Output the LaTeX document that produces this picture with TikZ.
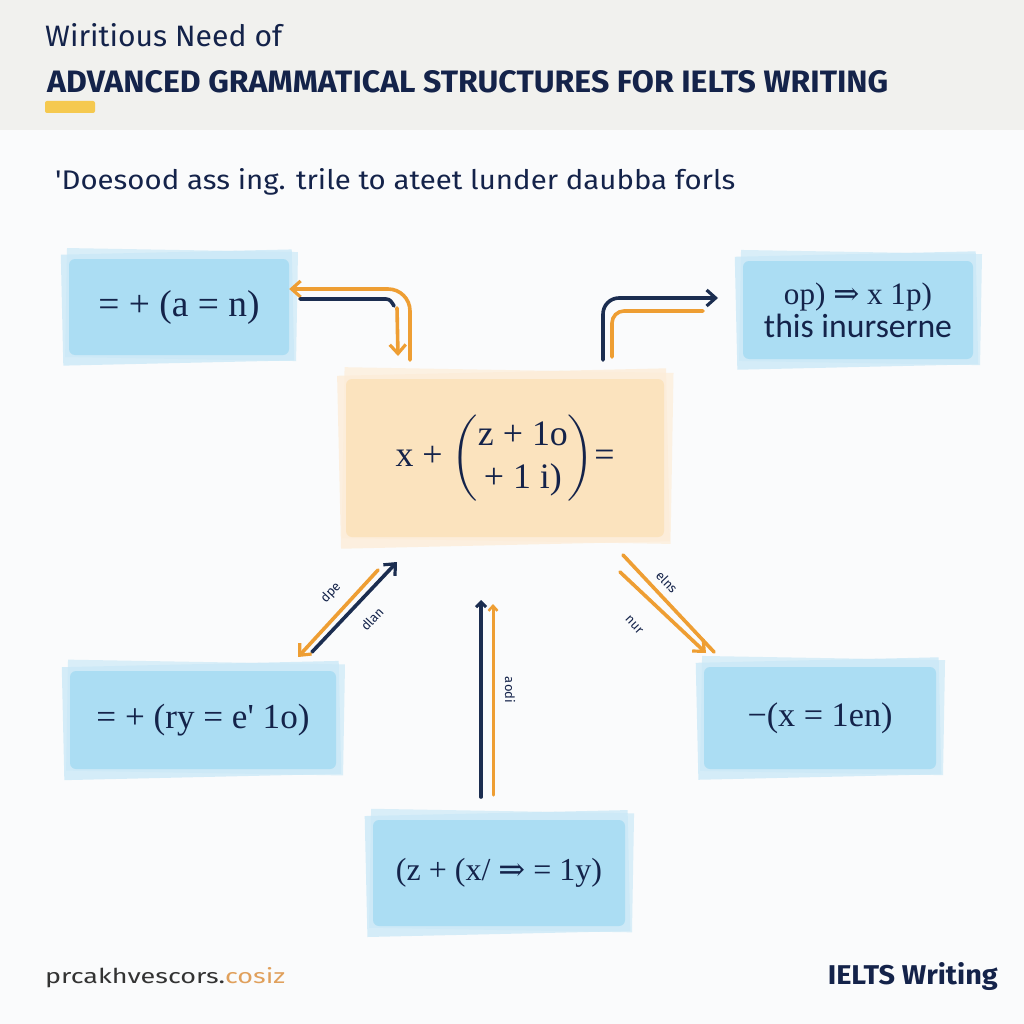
\documentclass[tikz,border=0pt]{standalone}
\usepackage{amsmath}
\usepackage{fontspec}
\usetikzlibrary{arrows.meta}
\newfontfamily\fira{Fira Sans}
\newfontfamily\carl{Carlito}
\newfontfamily\bxf{Liberation Serif}
\newfontfamily\djv{DejaVu Serif}
\definecolor{navy}{HTML}{14234A}
\definecolor{navyA}{HTML}{1B2D50}
\definecolor{orng}{HTML}{EE9E33}
\definecolor{headbg}{HTML}{F1F1EE}
\definecolor{pagebg}{HTML}{FAFBFC}
\definecolor{bluebox}{HTML}{ABDDF3}
\definecolor{blueshd}{HTML}{CBE9F7}
\definecolor{peach}{HTML}{FBE3BE}
\definecolor{peachshd}{HTML}{FDEDD8}
\definecolor{yelbar}{HTML}{F5C94F}
\definecolor{urlgray}{HTML}{333333}
\definecolor{urlorg}{HTML}{E0A05C}
\tikzset{
  boxst/.style={rounded corners=6pt, inner sep=0pt, text=navy, align=center},
  navyarrow/.style={draw=navyA, line width=3.6pt, line cap=round},
  orgarrow/.style={draw=orng, line width=3.6pt, line cap=round},
  tipb/.style={-{Straight Barb[length=9pt,width=16pt,line width=3.2pt]}},
  lbl/.style={font=\fira\fontsize{13}{14}\selectfont, text=navy, inner sep=0pt},
}
\newcommand\skbox[8]{%
  \fill[#7,opacity=.8,rotate around={1.3:(#2,#3)}] ({#2-#4/2-7},{#3-#5/2-7}) rectangle ({#2+#4/2+4},{#3+#5/2+8});
  \fill[#7,opacity=.7,rotate around={-1.0:(#2,#3)}] ({#2-#4/2-3},{#3-#5/2-9}) rectangle ({#2+#4/2+8},{#3+#5/2+4});
  \node[boxst,fill=#6,minimum width=#4,minimum height=#5] (#1) at (#2,#3) {#8};
}
\begin{document}
\begin{tikzpicture}[x=1pt,y=-1pt]
\useasboundingbox (0,0) rectangle (1024,1024);
\fill[pagebg] (0,0) rectangle (1024,1024);
\fill[headbg] (0,0) rectangle (1024,130);
% header
\node[anchor=base west, inner sep=0pt, text=navy] (kicker) at (45,47) {\resizebox{237pt}{23pt}{\fira Wiritious Need of}};
\node[anchor=base west, inner sep=0pt, text=navy] (title) at (47,93) {\resizebox{841pt}{22pt}{\fira\bfseries ADVANCED GRAMMATICAL STRUCTURES FOR IELTS WRITING}};
\fill[fill=yelbar, rounded corners=2pt] (45,101) rectangle (95,113);
\node[anchor=base west, inner sep=0pt, text=navy] (subtitle) at (55,190) {\resizebox{680pt}{21pt}{\fira 'Doesood ass ing. trile to ateet lunder daubba forls}};
% boxes
\skbox{tl}{179}{307}{220}{96}{bluebox}{blueshd}{\resizebox{161pt}{!}{\bxf = + (a = n)}}
\skbox{tr}{858}{310}{230}{98}{bluebox}{blueshd}{\resizebox{148pt}{!}{\bxf op) {\djv ⇒} x 1p)}\\[2pt]\resizebox{188pt}{!}{\carl this inurserne}}
\skbox{ctr}{505}{458}{318}{158}{peach}{peachshd}{\resizebox{219pt}{!}{\bxf x + $\left(\begin{matrix}\text{\bxf z + 1o}\\ \text{\bxf + 1 i)}\end{matrix}\right)$=}}
\skbox{bl}{203}{720}{266}{98}{bluebox}{blueshd}{\resizebox{213pt}{!}{\bxf = + (ry = e' 1o)}}
\skbox{br}{820}{718}{232}{102}{bluebox}{blueshd}{\resizebox{145pt}{!}{\bxf −(x = 1en)}}
\skbox{bot}{499}{873}{252}{106}{bluebox}{blueshd}{\resizebox{206pt}{!}{\bxf (z + (x/ {\djv ⇒} = 1y)}}
% coordinates for connector ends
\coordinate (tlA) at (410,360);
\coordinate (tlB) at (410,289);
\coordinate (tlC) at (397,308);
\coordinate (tlD) at (398,356);
\coordinate (tlE) at (300,299);
\coordinate (tlF) at (386,299);
\coordinate (tlG) at (394,306);
\coordinate (trA) at (603,360);
\coordinate (trB) at (603,298);
\coordinate (trC) at (718,298);
\coordinate (trD) at (612,357);
\coordinate (trE) at (612,311);
\coordinate (trF) at (703,311);
\coordinate (llA) at (312,652);
\coordinate (llB) at (397,562);
\coordinate (llC) at (378,570);
\coordinate (llD) at (298,657);
\coordinate (vA) at (481,797);
\coordinate (vB) at (481,600);
\coordinate (vC) at (493,795);
\coordinate (vD) at (493,604);
\coordinate (rA) at (623,555);
\coordinate (rB) at (714,652);
\coordinate (rC) at (620,572);
\coordinate (rD) at (706,653);
% top-left connectors
\draw[orgarrow, tipb, rounded corners=22pt] (tlA) -- (tlB) -- (tl.east |- tlB);
\draw[navyarrow] (tlE) -- (tlF) to[out=0,in=120] (tlG);
\draw[orgarrow, tipb] (tlC) -- (tlD);
% top-right connectors
\draw[navyarrow, tipb, rounded corners=16pt] (trA) -- (trB) -- (trC);
\draw[orgarrow, rounded corners=12pt] (trD) -- (trE) -- (trF);
% lower-left
\draw[navyarrow, tipb] (llA) -- (llB);
\draw[orgarrow, tipb] (llC) -- (llD);
\node[lbl, rotate=47] (lpe) at (331,593) {dpe};
\node[lbl, rotate=47] (llan) at (372,619) {dlan};
% vertical
\draw[navyarrow, -{Straight Barb[length=5pt,width=10pt,line width=3pt]}] (vA) -- (vB);
\draw[orgarrow, line width=3pt, -{Straight Barb[length=5pt,width=9pt,line width=2.5pt]}] (vC) -- (vD);
\node[lbl, rotate=-90] (vlab) at (510,690) {aodi};
% right diagonal
\draw[orgarrow] (rA) -- (rB);
\draw[orgarrow, tipb] (rC) -- (rD);
\node[lbl, rotate=-47] (rlab1) at (667,582) {elns};
\node[lbl, rotate=-47] (rlab2) at (634,625) {nur};
% footer
\node[anchor=base west, inner sep=0pt] (url) at (45,983) {\resizebox{240pt}{16pt}{\fira\textcolor{urlgray}{prcakhvescors.}\textcolor{urlorg}{cosiz}}};
\node[anchor=base east, inner sep=0pt, text=navy] (brand) at (998,984) {\resizebox{170pt}{22pt}{\fira\bfseries IELTS Writing}};
\end{tikzpicture}
\end{document}
